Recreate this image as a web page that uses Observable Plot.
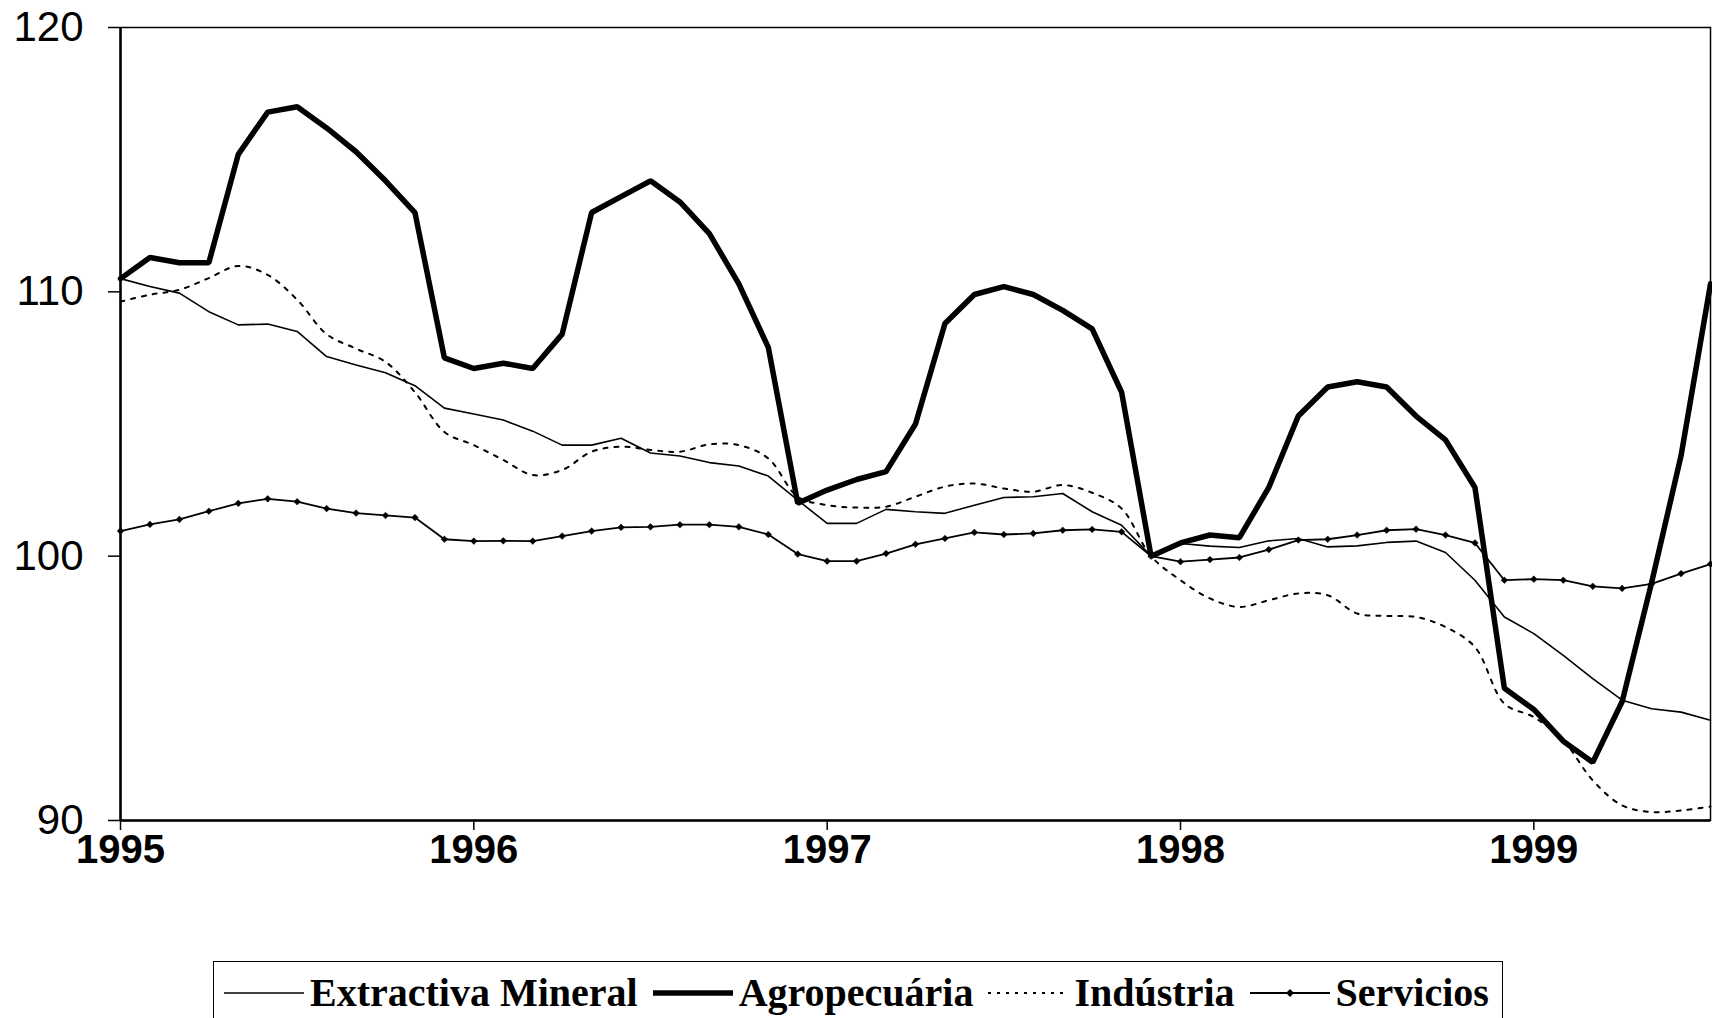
<!DOCTYPE html>
<html>
<head>
<meta charset="utf-8">
<script src="https://cdn.jsdelivr.net/npm/d3@7"></script>
<script src="https://cdn.jsdelivr.net/npm/@observablehq/plot@0.6"></script>
<style>
  html, body { margin: 0; padding: 0; background: #fff; overflow: hidden; }
  #wrap { position: relative; width: 1712px; height: 1018px; }
  #legend {
    position: absolute; left: 213px; top: 961px; width: 1290px; height: 70px;
    border: 1.5px solid #000; box-sizing: border-box;
    display: flex; align-items: flex-start; padding-left: 10px; padding-top: 9px;
    font-family: "Liberation Serif", "Times New Roman", serif; font-weight: bold; font-size: 40px; color: #000;
    white-space: nowrap;
  }
  .item { display: flex; align-items: center; margin-right: 15px; line-height: 44px; flex-shrink: 0; white-space: nowrap; }
  .item svg { margin-right: 6px; flex-shrink: 0; }
</style>
</head>
<body>
<div id="wrap">
  <div id="chart"></div>
  <div id="legend"></div>
</div>
<script>
const years = [1995, 1996, 1997, 1998, 1999];
const seriesNames = ["Extractiva Mineral", "Agropecuária", "Indústria", "Servicios"];

// Monthly index values, Jan 1995 .. Jul 1999
const extractiva = [110.5, 110.2, 109.95, 109.25, 108.75, 108.78, 108.5, 107.55, 107.23, 106.94, 106.45, 105.6,
  105.38, 105.15, 104.73, 104.2, 104.2, 104.46, 103.9, 103.79, 103.54, 103.41, 103.03, 102.12,
  101.24, 101.24, 101.77, 101.68, 101.62, 101.93, 102.22, 102.25, 102.37, 101.68, 101.17, 100.0,
  100.48, 100.38, 100.33, 100.58, 100.67, 100.35, 100.39, 100.52, 100.57, 100.14, 99.09, 97.7,
  97.07, 96.25, 95.37, 94.55, 94.23, 94.1, 93.79];
const agro = [110.5, 111.3, 111.1, 111.1, 115.2, 116.8, 117.0, 116.2, 115.3, 114.2, 113.0, 107.5,
  107.1, 107.3, 107.1, 108.4, 113.0, 113.6, 114.2, 113.4, 112.2, 110.3, 107.9, 102.0,
  102.5, 102.9, 103.2, 105.0, 108.8, 109.9, 110.2, 109.9, 109.3, 108.6, 106.2, 100.0,
  100.5, 100.8, 100.7, 102.6, 105.3, 106.4, 106.6, 106.4, 105.3, 104.4, 102.6, 95.0,
  94.2, 93.0, 92.2, 94.5, 99.0, 103.8, 110.3];
const industria = [109.63, 109.89, 110.08, 110.52, 110.98, 110.64, 109.7, 108.4, 107.85, 107.35, 106.2, 104.7,
  104.2, 103.64, 103.07, 103.26, 103.95, 104.14, 104.02, 103.95, 104.23, 104.2, 103.7, 102.25,
  101.93, 101.84, 101.87, 102.25, 102.63, 102.75, 102.56, 102.44, 102.69, 102.4, 101.8, 100.0,
  99.09, 98.4, 98.08, 98.33, 98.59, 98.52, 97.83, 97.74, 97.7, 97.32, 96.56, 94.42,
  93.91, 93.03, 91.52, 90.57, 90.32, 90.38, 90.53];
const servicios = [100.95, 101.2, 101.39, 101.7, 102.0, 102.17, 102.06, 101.8, 101.63, 101.54, 101.46, 100.64,
  100.57, 100.58, 100.57, 100.76, 100.95, 101.09, 101.11, 101.19, 101.19, 101.11, 100.82, 100.08,
  99.81, 99.81, 100.1, 100.45, 100.67, 100.9, 100.82, 100.86, 100.98, 101.01, 100.92, 100.0,
  99.79, 99.87, 99.95, 100.25, 100.61, 100.64, 100.8, 100.98, 101.02, 100.8, 100.5, 99.09,
  99.13, 99.09, 98.86, 98.78, 98.95, 99.34, 99.7];
const yTicks = [90, 100, 110, 120];

const toRows = (arr) => arr.map((v, i) => ({i, v}));
const rowsE = toRows(extractiva), rowsA = toRows(agro), rowsI = toRows(industria), rowsS = toRows(servicios);
const lastIndex = extractiva.length - 1;
const xTicks = years.map((y, k) => k * 12);

const chart = Plot.plot({
  width: 1712,
  height: 900,
  marginLeft: 120,
  marginRight: 2,
  marginTop: 27,
  marginBottom: 80,
  style: {background: "#fff", color: "#000"},
  x: {type: "linear", domain: [0, lastIndex]},
  y: {domain: [90, 120]},
  marks: [
    Plot.axisY({ticks: yTicks, tickFormat: d => String(d), tickSize: 12, tickPadding: 25, fontSize: 42,
      fontFamily: "Liberation Sans, Arial, sans-serif", label: null, strokeWidth: 1.5}),
    Plot.axisX({ticks: xTicks, tickFormat: d => String(years[Math.round(d / 12)]), tickSize: 10, tickPadding: 4,
      fontSize: 40, fontWeight: "bold", fontFamily: "Liberation Sans, Arial, sans-serif", label: null, strokeWidth: 1.5}),
    Plot.frame({stroke: "#000", strokeWidth: 1.5}),
    Plot.ruleX([0], {stroke: "#000", strokeWidth: 2.5}),
    Plot.ruleY([90], {stroke: "#000", strokeWidth: 2.5}),
    Plot.line(rowsI, {x: "i", y: "v", stroke: "#000", strokeWidth: 2, strokeDasharray: "4,7", curve: "catmull-rom"}),
    Plot.line(rowsE, {x: "i", y: "v", stroke: "#000", strokeWidth: 1.6}),
    Plot.line(rowsS, {x: "i", y: "v", stroke: "#000", strokeWidth: 1.8}),
    Plot.dot(rowsS, {x: "i", y: "v", symbol: "diamond2", r: 3, fill: "#000", stroke: "#000", strokeWidth: 0.5}),
    Plot.line(rowsA, {x: "i", y: "v", stroke: "#000", strokeWidth: 5.5, strokeLinejoin: "miter"})
  ]
});
document.getElementById("chart").appendChild(chart);

// Legend
const legendStyles = [
  {w: 1.6, dash: null, marker: false},
  {w: 5.5, dash: null, marker: false},
  {w: 2, dash: "3,6", marker: false},
  {w: 1.8, dash: null, marker: true}
];
const legend = document.getElementById("legend");
seriesNames.forEach((name, k) => {
  const st = legendStyles[k];
  const item = document.createElement("div");
  item.className = "item";
  const ns = "http://www.w3.org/2000/svg";
  const svg = document.createElementNS(ns, "svg");
  svg.setAttribute("width", 80); svg.setAttribute("height", 20);
  const ln = document.createElementNS(ns, "line");
  ln.setAttribute("x1", 0); ln.setAttribute("x2", 80); ln.setAttribute("y1", 10); ln.setAttribute("y2", 10);
  ln.setAttribute("stroke", "#000"); ln.setAttribute("stroke-width", st.w);
  if (st.dash) ln.setAttribute("stroke-dasharray", st.dash);
  svg.appendChild(ln);
  if (st.marker) {
    const p = document.createElementNS(ns, "path");
    p.setAttribute("d", "M40,6L44,10L40,14L36,10Z");
    p.setAttribute("fill", "#000");
    svg.appendChild(p);
  }
  item.appendChild(svg);
  const t = document.createElement("span");
  t.textContent = name;
  item.appendChild(t);
  legend.appendChild(item);
});
</script>
</body>
</html>
